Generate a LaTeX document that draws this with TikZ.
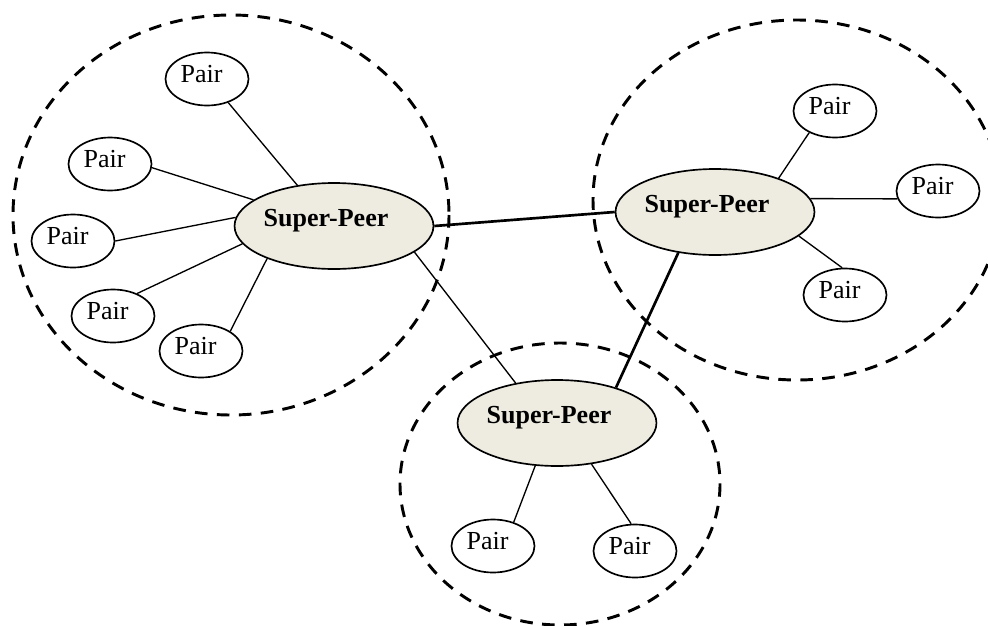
\documentclass[tikz,border=0pt]{standalone}
\usepackage{fontspec}
\setmainfont{Liberation Serif}
\usetikzlibrary{shapes.geometric}
\definecolor{peerfill}{HTML}{EEECE1}
\begin{document}
\begin{tikzpicture}[x=0.75pt,y=-0.75pt,
  cluster/.style={draw,line width=2.2pt,dash pattern=on 9.5pt off 7pt},
  pairnode/.style={draw,ellipse,line width=1.25pt,inner sep=0pt,
    minimum width=62.25pt,minimum height=39.75pt,
    text height=4.5pt,text depth=0pt,
    font=\fontsize{19.5}{22}\selectfont},
  supernode/.style={draw,ellipse,fill=peerfill,line width=1.25pt,inner sep=0pt,
    minimum width=138pt,minimum height=64.5pt,
    text height=1pt,text depth=0pt,
    font=\fontsize{19.5}{22}\selectfont\bfseries},
  link/.style={line width=1pt},
  backbone/.style={line width=2pt}]
\useasboundingbox (0,0) rectangle (988,625);

% peer groups
\draw[cluster] (231,215) ellipse [x radius=218, y radius=200];
\draw[cluster] (797,200) ellipse [x radius=204, y radius=180];
\draw[cluster] (560,484) ellipse [x radius=160, y radius=141];

% super-peers
\node[supernode] (sp1) at (334,226) {Super-Peer\hspace*{12pt}};
\node[supernode] (sp2) at (715,212) {Super-Peer\hspace*{12pt}};
\node[supernode] (sp3) at (557,423) {Super-Peer\hspace*{12pt}};

% pairs of the left group
\node[pairnode] (a1) at (207,79)  {Pair\hspace*{8pt}};
\node[pairnode] (a2) at (110,164) {Pair\hspace*{8pt}};
\node[pairnode] (a3) at (73,241)  {Pair\hspace*{8pt}};
\node[pairnode] (a4) at (113,316) {Pair\hspace*{8pt}};
\node[pairnode] (a5) at (201,351) {Pair\hspace*{8pt}};

% pairs of the right group
\node[pairnode] (b1) at (835,111) {Pair\hspace*{8pt}};
\node[pairnode] (b2) at (938,191) {Pair\hspace*{8pt}};
\node[pairnode] (b3) at (845,295) {Pair\hspace*{8pt}};

% pairs of the bottom group
\node[pairnode] (c1) at (493,546) {Pair\hspace*{8pt}};
\node[pairnode] (c2) at (635,551) {Pair\hspace*{8pt}};

% links inside the groups
\draw[link] (a1.312) -- (sp1.132);
\draw[link] (a2.355) -- (sp1.162);
\draw[link] (a3.0)   -- (sp1.175);
\draw[link] (a4.43)  -- (sp1.191);
\draw[link] (a5.34)  -- (sp1.206);

\draw[link] (b1.220) -- (sp2.28);
\draw[link] (b2.191) -- (sp2.8);
\draw[link] (b3.96)  -- (sp2.344);

\draw[link] (c1.49) -- (sp3.243);
\draw[link] (c2.98) -- (sp3.310);

% links between super-peers
\draw[backbone] (sp1.east) -- (sp2.west);
\draw[link] (sp1.342) -- (sp3.136);
\draw[backbone] (sp2.228) -- (sp3.31);
\end{tikzpicture}
\end{document}
